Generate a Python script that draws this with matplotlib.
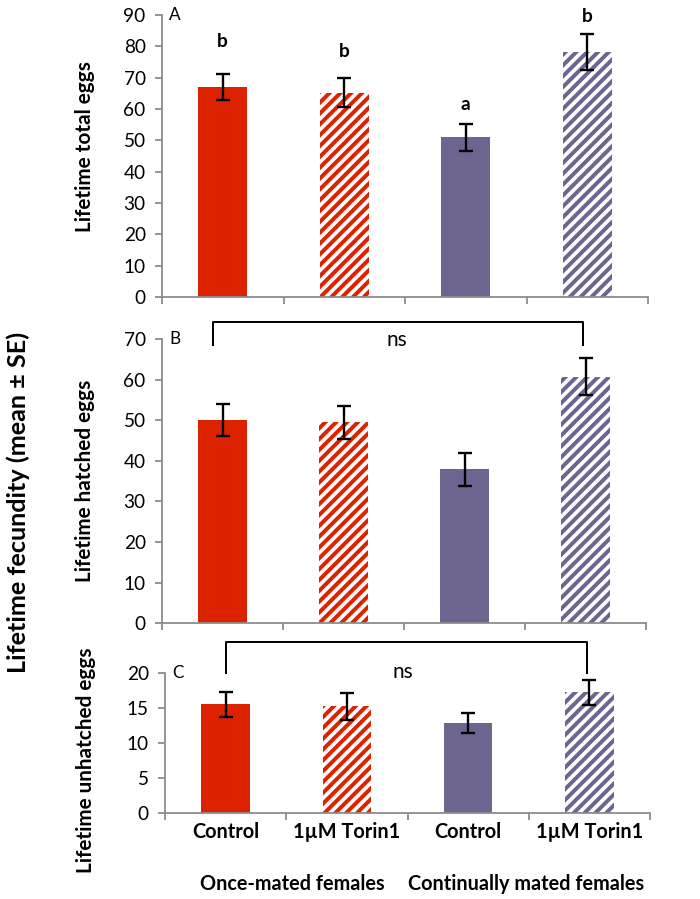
import matplotlib
matplotlib.use("Agg")
import matplotlib.pyplot as plt
import matplotlib.transforms as mtransforms
import numpy as np

plt.rcParams['font.family'] = ['Lato', 'DejaVu Sans']
plt.rcParams['hatch.linewidth'] = 2.2

# data
categories = ["Control", "1\u00b5M Torin1", "Control", "1\u00b5M Torin1"]
groups = ["Once-mated females", "Continually mated females"]

total_mean = [67.0, 65.2, 51.0, 78.3]
total_se = [4.1, 4.6, 4.3, 5.7]
total_letters = ["b", "b", "a", "b"]
total_letter_y = [81.5, 78.5, 61.5, 89.5]

hatched_mean = [50.1, 49.5, 37.9, 60.7]
hatched_se = [4.0, 4.0, 4.1, 4.6]

unhatched_mean = [15.5, 15.2, 12.8, 17.2]
unhatched_se = [1.8, 1.9, 1.4, 1.8]

red = "#DD2200"
purple = "#6E6490"
colors = [red, red, purple, purple]
hatched = [False, True, False, True]
axis_gray = "#8c8c8c"

fig = plt.figure(figsize=(700 / 130, 899 / 130), dpi=130)

axA = fig.add_axes([162 / 700, 1 - 297 / 899, 486 / 700, 282 / 899])
axB = fig.add_axes([162 / 700, 1 - 623.3 / 899, 484 / 700, 284.3 / 899])
axC = fig.add_axes([165 / 700, 1 - 812.7 / 899, 485 / 700, 140 / 899])

x = np.arange(len(categories))


def draw_panel(ax, means, ses, ymax, step, letter):
    for i in range(len(means)):
        if hatched[i]:
            ax.bar(x[i], means[i], width=0.4, color="white", edgecolor=colors[i],
                   hatch="////", linewidth=0)
        else:
            ax.bar(x[i], means[i], width=0.4, color=colors[i], linewidth=0)
    ax.errorbar(x, means, yerr=ses, fmt="none", ecolor="black", elinewidth=1.3,
                capsize=4, capthick=1.3)
    ax.set_xlim(-0.5, 3.5)
    ax.set_ylim(0, ymax)
    ax.set_yticks(np.arange(0, ymax + 1, step))
    ax.set_xticks(np.arange(-0.5, 4, 1))
    ax.set_xticklabels([])
    for s in ["top", "right"]:
        ax.spines[s].set_visible(False)
    for s in ["left", "bottom"]:
        ax.spines[s].set_color(axis_gray)
        ax.spines[s].set_linewidth(1.0)
    ax.tick_params(axis="both", colors=axis_gray, length=4, width=1.0,
                   labelcolor="black", labelsize=10.5, pad=5)
    ax.text(0.015, 1.0, letter, transform=ax.transAxes, fontsize=9.5, va="center",
            ha="left")


draw_panel(axA, total_mean, total_se, 90, 10, "A")
draw_panel(axB, hatched_mean, hatched_se, 70, 10, "B")
draw_panel(axC, unhatched_mean, unhatched_se, 20, 5, "C")

for i in range(4):
    axA.text(x[i], total_letter_y[i], total_letters[i], ha="center", va="center",
             fontsize=10.5, fontweight="bold")

# brackets
axB.plot([-0.08, -0.08, 2.98, 2.98], [68.5, 74.2, 74.2, 68.5], color="black",
         lw=1.1, clip_on=False, solid_joinstyle="round")
axB.text(1.44, 69.8, "ns", ha="center", va="center", fontsize=11.5)
axC.plot([0.0, 0.0, 2.98, 2.98], [19.9, 24.4, 24.4, 19.9], color="black",
         lw=1.1, clip_on=False, solid_joinstyle="round")
axC.text(1.46, 20.1, "ns", ha="center", va="center", fontsize=11.5)

# category labels
trans = mtransforms.blended_transform_factory(axC.transData, axC.transAxes)
for i, c in enumerate(categories):
    axC.text(x[i], -0.14, c, transform=trans, ha="center", va="center",
             fontsize=11, fontweight="bold")
axC.text(0.55, -0.51, groups[0], transform=trans, ha="center", va="center",
         fontsize=11, fontweight="bold")
axC.text(2.48, -0.51, groups[1], transform=trans, ha="center", va="center",
         fontsize=11, fontweight="bold")

fig.text(85 / 700, 1 - 147 / 899, "Lifetime total eggs", rotation=90,
         ha="center", va="center", fontsize=11.5, fontweight="bold")
fig.text(85 / 700, 1 - 481 / 899, "Lifetime hatched eggs", rotation=90,
         ha="center", va="center", fontsize=11.5, fontweight="bold")
fig.text(86 / 700, 1 - 760 / 899, "Lifetime unhatched eggs", rotation=90,
         ha="center", va="center", fontsize=11.5, fontweight="bold")
fig.text(18 / 700, 1 - 502 / 899, "Lifetime fecundity (mean \u00b1 SE)", rotation=90,
         ha="center", va="center", fontsize=14, fontweight="bold")

fig.savefig("out.png", dpi=130, facecolor="white")
